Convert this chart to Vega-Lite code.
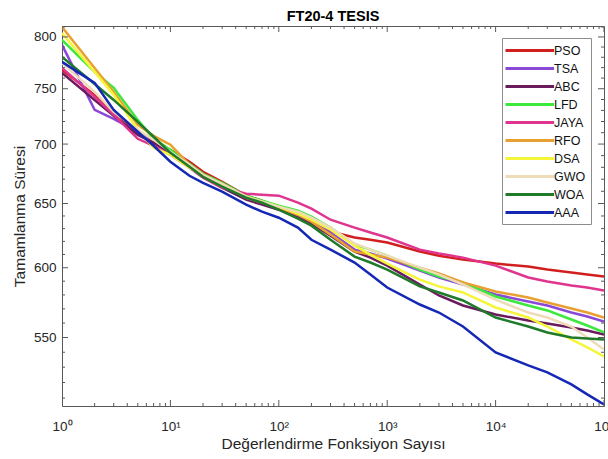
{
  "$schema": "https://vega.github.io/schema/vega-lite/v6.json",
  "width": 542,
  "height": 380,
  "autosize": {"type": "none"},
  "padding": {"left": 62, "top": 26, "right": 4, "bottom": 53},
  "background": "white",
  "config": {
    "font": "Liberation Sans",
    "view": {"stroke": "#595959", "strokeWidth": 1}
  },
  "title": {"text": "FT20-4 TESIS", "fontSize": 14.5, "fontWeight": "bold", "font": "Liberation Sans", "color": "#000000", "anchor": "middle", "offset": 2},
  "layer": [
    {
      "data": {
        "values": [
          {"n": 1, "PSO": 767.8, "TSA": 792.1, "ABC": 765.0, "LFD": 797.0, "JAYA": 769.7, "RFO": 810.0, "DSA": 804.0, "GWO": 774.5, "WOA": 780.4, "AAA": 775.5},
          {"n": 2, "PSO": 744.3, "TSA": 730.5, "ABC": 739.6, "LFD": 765.9, "JAYA": 742.5, "RFO": 769.7, "DSA": 765.9, "GWO": 747.0, "WOA": 754.5, "AAA": 755.5},
          {"n": 3, "PSO": 728.7, "TSA": 722.3, "ABC": 725.1, "LFD": 750.8, "JAYA": 726.0, "RFO": 747.0, "DSA": 744.3, "GWO": 728.7, "WOA": 739.6, "AAA": 730.5},
          {"n": 5, "PSO": 709.9, "TSA": 710.8, "ABC": 708.1, "LFD": 721.4, "JAYA": 704.6, "RFO": 717.0, "DSA": 712.6, "GWO": 712.6, "WOA": 719.6, "AAA": 710.8},
          {"n": 7, "PSO": 701.1, "TSA": 703.7, "ABC": 701.1, "LFD": 704.6, "JAYA": 698.5, "RFO": 707.2, "DSA": 696.8, "GWO": 703.7, "WOA": 706.4, "AAA": 698.5},
          {"n": 10, "PSO": 695.0, "TSA": 693.3, "ABC": 692.4, "LFD": 695.0, "JAYA": 690.7, "RFO": 699.4, "DSA": 690.7, "GWO": 693.3, "WOA": 692.4, "AAA": 684.8},
          {"n": 15, "PSO": 684.8, "TSA": 681.4, "ABC": 681.4, "LFD": 683.1, "JAYA": 679.6, "RFO": 682.2, "DSA": 679.6, "GWO": 682.2, "WOA": 680.5, "AAA": 672.9},
          {"n": 20, "PSO": 676.2, "TSA": 672.9, "ABC": 672.0, "LFD": 674.5, "JAYA": 671.2, "RFO": 673.7, "DSA": 672.9, "GWO": 673.7, "WOA": 672.0, "AAA": 667.0},
          {"n": 30, "PSO": 667.9, "TSA": 664.6, "ABC": 662.9, "LFD": 667.0, "JAYA": 662.9, "RFO": 665.4, "DSA": 665.4, "GWO": 666.2, "WOA": 663.8, "AAA": 659.7},
          {"n": 50, "PSO": 656.4, "TSA": 653.9, "ABC": 653.1, "LFD": 656.4, "JAYA": 658.0, "RFO": 654.7, "DSA": 655.6, "GWO": 655.6, "WOA": 654.7, "AAA": 649.1},
          {"n": 70, "PSO": 652.3, "TSA": 649.9, "ABC": 649.1, "LFD": 652.3, "JAYA": 657.2, "RFO": 650.7, "DSA": 651.5, "GWO": 651.5, "WOA": 650.7, "AAA": 643.4},
          {"n": 100, "PSO": 646.7, "TSA": 645.8, "ABC": 645.0, "LFD": 648.3, "JAYA": 656.4, "RFO": 646.7, "DSA": 647.5, "GWO": 647.5, "WOA": 645.0, "AAA": 638.6},
          {"n": 150, "PSO": 641.0, "TSA": 640.2, "ABC": 638.6, "LFD": 644.2, "JAYA": 650.7, "RFO": 641.0, "DSA": 641.8, "GWO": 643.4, "WOA": 637.8, "AAA": 630.8},
          {"n": 200, "PSO": 633.1, "TSA": 635.4, "ABC": 633.9, "LFD": 639.4, "JAYA": 645.8, "RFO": 635.4, "DSA": 637.0, "GWO": 638.6, "WOA": 632.3, "AAA": 621.3},
          {"n": 300, "PSO": 627.7, "TSA": 626.9, "ABC": 624.5, "LFD": 630.8, "JAYA": 637.0, "RFO": 625.3, "DSA": 629.2, "GWO": 630.8, "WOA": 621.3, "AAA": 613.7},
          {"n": 500, "PSO": 623.0, "TSA": 613.7, "ABC": 612.2, "LFD": 617.6, "JAYA": 630.8, "RFO": 612.2, "DSA": 616.8, "GWO": 618.4, "WOA": 608.4, "AAA": 603.9},
          {"n": 700, "PSO": 621.3, "TSA": 610.7, "ABC": 607.6, "LFD": 613.7, "JAYA": 626.9, "RFO": 609.9, "DSA": 609.9, "GWO": 613.7, "WOA": 603.9, "AAA": 594.9},
          {"n": 1000, "PSO": 619.1, "TSA": 606.9, "ABC": 601.6, "LFD": 609.1, "JAYA": 623.0, "RFO": 607.6, "DSA": 603.1, "GWO": 609.1, "WOA": 598.6, "AAA": 585.4},
          {"n": 2000, "PSO": 612.2, "TSA": 597.9, "ABC": 587.6, "LFD": 598.6, "JAYA": 613.7, "RFO": 600.1, "DSA": 591.2, "GWO": 600.1, "WOA": 586.2, "AAA": 573.1},
          {"n": 3000, "PSO": 609.1, "TSA": 592.7, "ABC": 579.6, "LFD": 593.5, "JAYA": 610.7, "RFO": 595.7, "DSA": 586.2, "GWO": 594.9, "WOA": 581.8, "AAA": 567.4},
          {"n": 5000, "PSO": 606.1, "TSA": 587.6, "ABC": 572.4, "LFD": 589.1, "JAYA": 607.6, "RFO": 589.1, "DSA": 581.8, "GWO": 587.6, "WOA": 576.0, "AAA": 557.6},
          {"n": 10000, "PSO": 603.1, "TSA": 580.3, "ABC": 566.0, "LFD": 578.9, "JAYA": 601.6, "RFO": 582.5, "DSA": 571.0, "GWO": 576.6, "WOA": 563.9, "AAA": 539.9},
          {"n": 20000, "PSO": 600.9, "TSA": 575.2, "ABC": 561.8, "LFD": 572.4, "JAYA": 592.7, "RFO": 578.1, "DSA": 563.9, "GWO": 567.4, "WOA": 557.6, "AAA": 531.2},
          {"n": 30000, "PSO": 598.6, "TSA": 572.4, "ABC": 559.7, "LFD": 568.9, "JAYA": 589.8, "RFO": 574.5, "DSA": 557.6, "GWO": 563.9, "WOA": 553.5, "AAA": 526.6},
          {"n": 50000, "PSO": 596.4, "TSA": 567.4, "ABC": 556.9, "LFD": 562.5, "JAYA": 586.9, "RFO": 570.3, "DSA": 548.7, "GWO": 557.6, "WOA": 550.0, "AAA": 518.8},
          {"n": 70000, "PSO": 594.9, "TSA": 564.6, "ABC": 554.9, "LFD": 558.3, "JAYA": 585.4, "RFO": 567.4, "DSA": 543.3, "GWO": 550.0, "WOA": 549.4, "AAA": 512.4},
          {"n": 100000, "PSO": 593.5, "TSA": 561.1, "ABC": 552.1, "LFD": 553.5, "JAYA": 583.2, "RFO": 563.9, "DSA": 537.2, "GWO": 541.9, "WOA": 548.7, "AAA": 506.0}
        ]
      },
      "transform": [
        {"fold": ["PSO", "TSA", "ABC", "LFD", "JAYA", "RFO", "DSA", "GWO", "WOA", "AAA"], "as": ["algoritma", "sure"]}
      ],
      "mark": {"type": "line", "strokeWidth": 2.5, "clip": true},
      "encoding": {
        "x": {
          "field": "n", "type": "quantitative",
          "scale": {"type": "log", "domain": [1, 100000], "nice": false},
          "axis": {
            "orient": "bottom",
            "values": [1, 10, 100, 1000, 10000, 100000],
            "labelExpr": "datum.value==1?'10⁰':datum.value==10?'10¹':datum.value==100?'10²':datum.value==1000?'10³':datum.value==10000?'10⁴':datum.value==100000?'10⁵':''",
            "domain": false,
            "ticks": false,
            "tickSize": 0,
            "grid": false,
            "labelPadding": 13,
            "labelFontSize": 13.5,
            "labelColor": "#262626",
            "labelOverlap": false,
            "labelFlush": false,
            "labelBound": false,
            "title": "Değerlendirme Fonksiyon Sayısı",
            "titleFontSize": 15.5,
            "titleFontWeight": "normal",
            "titleColor": "#262626",
            "titlePadding": 4
          }
        },
        "y": {
          "field": "sure", "type": "quantitative",
          "scale": {"type": "log", "domain": [505, 811], "nice": false, "zero": false},
          "axis": {
            "orient": "left",
            "values": [550, 600, 650, 700, 750, 800],
            "domain": false,
            "ticks": false,
            "tickSize": 0,
            "grid": false,
            "labelPadding": 6,
            "labelFontSize": 13.5,
            "labelColor": "#262626",
            "labelOverlap": false,
            "labelBound": false,
            "labelFlush": false,
            "title": "Tamamlanma Süresi",
            "titleFontSize": 15.5,
            "titleFontWeight": "normal",
            "titleColor": "#262626",
            "titlePadding": 6
          }
        },
        "color": {
          "field": "algoritma", "type": "nominal",
          "scale": {
            "domain": ["PSO", "TSA", "ABC", "LFD", "JAYA", "RFO", "DSA", "GWO", "WOA", "AAA"],
            "range": ["#D11F1F", "#8A48D8", "#6A1B5E", "#3BE83B", "#E0358F", "#E8A030", "#F5F53A", "#EEDCB8", "#1F7A2A", "#1428B4"]
          },
          "legend": {
            "orient": "none",
            "legendX": 440,
            "legendY": 12,
            "title": null,
            "symbolType": "M-1.5,0H6.6",
            "symbolSize": 144,
            "symbolStrokeWidth": 3,
            "labelFontSize": 12.5,
            "labelColor": "#111111",
            "labelOffset": 32,
            "rowPadding": 4,
            "padding": 5,
            "strokeColor": "#8c8c8c",
            "fillColor": "white"
          }
        }
      }
    },
    {
      "data": {"values": [{"t": 1}, {"t": 10}, {"t": 100}, {"t": 1000}, {"t": 10000}, {"t": 100000}]},
      "layer": [
        {
          "mark": {"type": "tick", "orient": "vertical", "size": 12, "thickness": 1, "color": "#595959", "opacity": 1, "clip": true},
          "encoding": {
            "x": {"field": "t", "type": "quantitative"},
            "y": {"datum": 505, "type": "quantitative"}
          }
        },
        {
          "mark": {"type": "tick", "orient": "vertical", "size": 12, "thickness": 1, "color": "#595959", "opacity": 1, "clip": true},
          "encoding": {
            "x": {"field": "t", "type": "quantitative"},
            "y": {"datum": 811, "type": "quantitative"}
          }
        }
      ]
    },
    {
      "data": {"values": [{"t": 2}, {"t": 3}, {"t": 4}, {"t": 5}, {"t": 6}, {"t": 7}, {"t": 8}, {"t": 9}, {"t": 20}, {"t": 30}, {"t": 40}, {"t": 50}, {"t": 60}, {"t": 70}, {"t": 80}, {"t": 90}, {"t": 200}, {"t": 300}, {"t": 400}, {"t": 500}, {"t": 600}, {"t": 700}, {"t": 800}, {"t": 900}, {"t": 2000}, {"t": 3000}, {"t": 4000}, {"t": 5000}, {"t": 6000}, {"t": 7000}, {"t": 8000}, {"t": 9000}, {"t": 20000}, {"t": 30000}, {"t": 40000}, {"t": 50000}, {"t": 60000}, {"t": 70000}, {"t": 80000}, {"t": 90000}]},
      "layer": [
        {
          "mark": {"type": "tick", "orient": "vertical", "size": 6, "thickness": 1, "color": "#595959", "opacity": 1, "clip": true},
          "encoding": {
            "x": {"field": "t", "type": "quantitative"},
            "y": {"datum": 505, "type": "quantitative"}
          }
        },
        {
          "mark": {"type": "tick", "orient": "vertical", "size": 6, "thickness": 1, "color": "#595959", "opacity": 1, "clip": true},
          "encoding": {
            "x": {"field": "t", "type": "quantitative"},
            "y": {"datum": 811, "type": "quantitative"}
          }
        }
      ]
    },
    {
      "data": {"values": [{"v": 550}, {"v": 600}, {"v": 650}, {"v": 700}, {"v": 750}, {"v": 800}]},
      "layer": [
        {
          "mark": {"type": "tick", "orient": "horizontal", "size": 12, "thickness": 1, "color": "#595959", "opacity": 1, "clip": true},
          "encoding": {
            "y": {"field": "v", "type": "quantitative"},
            "x": {"datum": 1, "type": "quantitative"}
          }
        },
        {
          "mark": {"type": "tick", "orient": "horizontal", "size": 12, "thickness": 1, "color": "#595959", "opacity": 1, "clip": true},
          "encoding": {
            "y": {"field": "v", "type": "quantitative"},
            "x": {"datum": 100000, "type": "quantitative"}
          }
        }
      ]
    },
    {
      "data": {"values": [{"v": 510}, {"v": 520}, {"v": 530}, {"v": 540}, {"v": 560}, {"v": 570}, {"v": 580}, {"v": 590}, {"v": 610}, {"v": 620}, {"v": 630}, {"v": 640}, {"v": 660}, {"v": 670}, {"v": 680}, {"v": 690}, {"v": 710}, {"v": 720}, {"v": 730}, {"v": 740}, {"v": 760}, {"v": 770}, {"v": 780}, {"v": 790}, {"v": 810}]},
      "layer": [
        {
          "mark": {"type": "tick", "orient": "horizontal", "size": 6, "thickness": 1, "color": "#595959", "opacity": 1, "clip": true},
          "encoding": {
            "y": {"field": "v", "type": "quantitative"},
            "x": {"datum": 1, "type": "quantitative"}
          }
        },
        {
          "mark": {"type": "tick", "orient": "horizontal", "size": 6, "thickness": 1, "color": "#595959", "opacity": 1, "clip": true},
          "encoding": {
            "y": {"field": "v", "type": "quantitative"},
            "x": {"datum": 100000, "type": "quantitative"}
          }
        }
      ]
    }
  ]
}
